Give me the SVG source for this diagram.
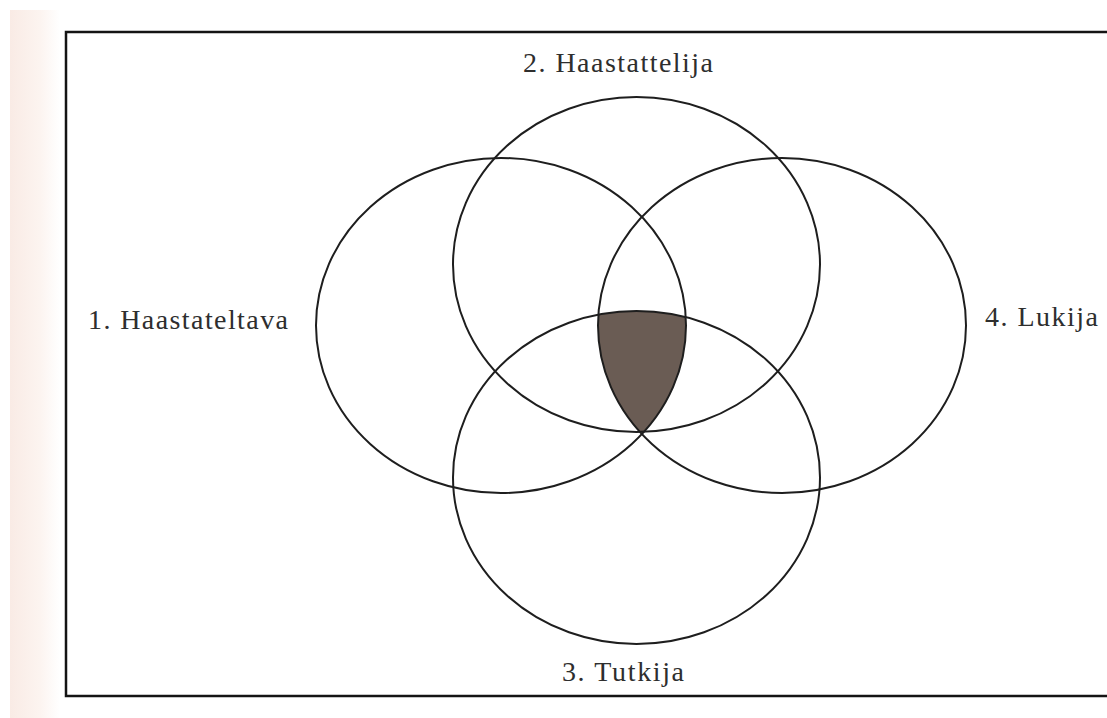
<svg xmlns="http://www.w3.org/2000/svg" width="1107" height="718" viewBox="0 0 1107 718">
  <defs>
    <style>
      .ring { fill: none; stroke: #1e1e1e; stroke-width: 2; }
      .lbl { font-family: "Liberation Serif", "DejaVu Serif", serif; font-size: 28px; fill: #2e2e2e; }
    </style>
    <linearGradient id="edge" x1="0" y1="0" x2="1" y2="0">
      <stop offset="0" stop-color="#f9ebe5"/>
      <stop offset="0.6" stop-color="#fcf4f0"/>
      <stop offset="1" stop-color="#ffffff"/>
    </linearGradient>
    <clipPath id="c1"><ellipse cx="501" cy="325.5" rx="185" ry="167.5"/></clipPath>
    <clipPath id="c2"><ellipse cx="636.5" cy="264.5" rx="183.5" ry="167.5"/></clipPath>
    <clipPath id="c4"><ellipse cx="782" cy="325.5" rx="184" ry="167.5"/></clipPath>
  </defs>
  <rect x="0" y="0" width="1107" height="718" fill="#ffffff"/>
  <rect x="10" y="10" width="50" height="708" fill="url(#edge)"/>
  <path d="M1107,32 H66 V696 H1107" fill="none" stroke="#141414" stroke-width="2.5"/>

  <g id="shade">
    <g clip-path="url(#c2)">
      <g clip-path="url(#c1)">
        <ellipse cx="636.5" cy="477.5" rx="183.5" ry="166.5" fill="#6a5c54" clip-path="url(#c4)"/>
      </g>
    </g>
  </g>

  <g id="node1">
    <ellipse class="ring" cx="501" cy="325.5" rx="185" ry="167.5"/>
    <text class="lbl" x="88" y="329" textLength="200" lengthAdjust="spacing">1. Haastateltava</text>
  </g>
  <g id="node2">
    <ellipse class="ring" cx="636.5" cy="264.5" rx="183.5" ry="167.5"/>
    <text class="lbl" x="523" y="72" textLength="190" lengthAdjust="spacing">2. Haastattelija</text>
  </g>
  <g id="node3">
    <ellipse class="ring" cx="636.5" cy="477.5" rx="183.5" ry="166.5"/>
    <text class="lbl" x="562" y="681" textLength="122" lengthAdjust="spacing">3. Tutkija</text>
  </g>
  <g id="node4">
    <ellipse class="ring" cx="782" cy="325.5" rx="184" ry="167.5"/>
    <text class="lbl" x="985" y="326" textLength="113" lengthAdjust="spacing">4. Lukija</text>
  </g>
  <g id="connectors"/>
</svg>
